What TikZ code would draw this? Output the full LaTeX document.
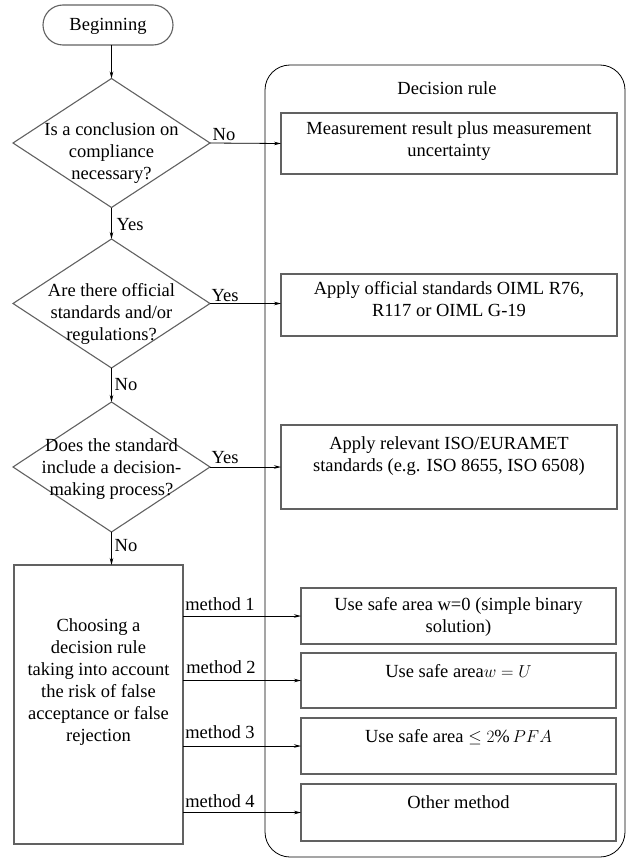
\documentclass[tikz,border=0pt]{standalone}
\usepackage{fontspec}
\setmainfont{Liberation Serif}
\newfontfamily\serifx{Liberation Serif}
\usetikzlibrary{shapes.geometric,arrows.meta}
\begin{document}
\begin{tikzpicture}[x=1pt,y=-1pt,
  every node/.style={font=\serifx\fontsize{18.5}{22}\selectfont, inner sep=0pt, outer sep=0pt},
  boxs/.style={draw=black!62, line width=1.1pt, rectangle},
  dia/.style={draw=black!62, line width=1.1pt, diamond},
  txt/.style={align=center},
  conn/.style={draw=black, line width=0.8pt, -{Stealth[length=7pt,width=3.5pt]}}]
\useasboundingbox (0,0) rectangle (627,859);
% start
\node[boxs, rounded corners=20pt, minimum width=130pt, minimum height=40pt] (begin) at (108,25) {};
\node[txt] (tbegin) at (108,26) {Beginning};
% panel
\node[draw=black, line width=0.8pt, rounded corners=25pt, minimum width=360pt, minimum height=792pt] (panel) at (445,461) {};
\node[txt] (tpanel) at (447,88) {Decision rule};
% diamonds
\node[dia, minimum width=197pt, minimum height=129pt] (d1) at (111.5,143) {};
\node[txt] (td1) at (111.5,153) {Is a conclusion on\\compliance\\necessary?};
\node[dia, minimum width=197pt, minimum height=129pt] (d2) at (111.5,303.5) {};
\node[txt] (td2) at (111.5,314) {Are there official\\standards and/or\\regulations?};
\node[dia, minimum width=197pt, minimum height=130pt] (d3) at (111.5,467) {};
\node[txt] (td3) at (111.5,469) {Does the standard\\include a decision-\\making process?};
\node[boxs, minimum width=169pt, minimum height=279pt] (choose) at (98.5,704.5) {};
\node[txt] (tchoose) at (98.5,682) {Choosing a\\decision rule\\taking into account\\the risk of false\\acceptance or false\\rejection};
% right boxes
\node[boxs, minimum width=336pt, minimum height=61pt] (b1) at (449,143.5) {};
\node[txt] (tb1) at (449,141) {Measurement result plus measurement\\uncertainty};
\node[boxs, minimum width=336pt, minimum height=62pt] (b2) at (449,305) {};
\node[txt] (tb2) at (449,299.5) {Apply official standards OIML R76,\\R117 or OIML G-19};
\node[boxs, minimum width=336pt, minimum height=84pt] (b3) at (449,467) {};
\node[txt] (tb3) at (449,456) {Apply relevant ISO/EURAMET\\standards (e.g. ISO 8655, ISO 6508)};
\node[boxs, minimum width=315pt, minimum height=56pt] (ba) at (458.5,616) {};
\node[txt] (tba) at (458.5,617) {Use safe area w=0 (simple binary\\solution)};
\node[boxs, minimum width=315pt, minimum height=55pt] (bb) at (458.5,680.5) {};
\node[txt] (tbb) at (458.5,671) {Use safe area$w = U$};
\node[boxs, minimum width=315pt, minimum height=56pt] (bc) at (458.5,746) {};
\node[txt] (tbc) at (458.5,737) {Use safe area $\leq 2\%\,PFA$};
\node[boxs, minimum width=315pt, minimum height=57pt] (bd) at (458.5,812.5) {};
\node[txt] (tbd) at (458.5,802) {Other method};
% connectors
\draw[conn] (d1.north |- begin.south) -- (d1.north);
\draw[conn] (d1.east) -- (b1.west);
\draw[conn] (d1.south) -- (d2.north);
\draw[conn] (d2.east) -- (d2.east -| b2.west);
\draw[conn] (d2.south) -- (d3.north);
\draw[conn] (d3.east) -- (b3.west);
\draw[conn] (d3.south) -- (d3.south |- choose.north);
\draw[conn] (choose.east |- ba.west) -- (ba.west);
\draw[conn] (choose.east |- bb.west) -- (bb.west);
\draw[conn] (choose.east |- bc.west) -- (bc.west);
\draw[conn] (choose.east |- bd.west) -- (bd.west);
% labels
\node (l1) at (224,135) {No};
\node (l2) at (130,225) {Yes};
\node (l3) at (225,296) {Yes};
\node (l4) at (126,385) {No};
\node (l5) at (225,458) {Yes};
\node (l6) at (126,546) {No};
\node (m1) at (220,604) {method 1};
\node (m2) at (221,667) {method 2};
\node (m3) at (220,732) {method 3};
\node (m4) at (220,801) {method 4};
\end{tikzpicture}
\end{document}
